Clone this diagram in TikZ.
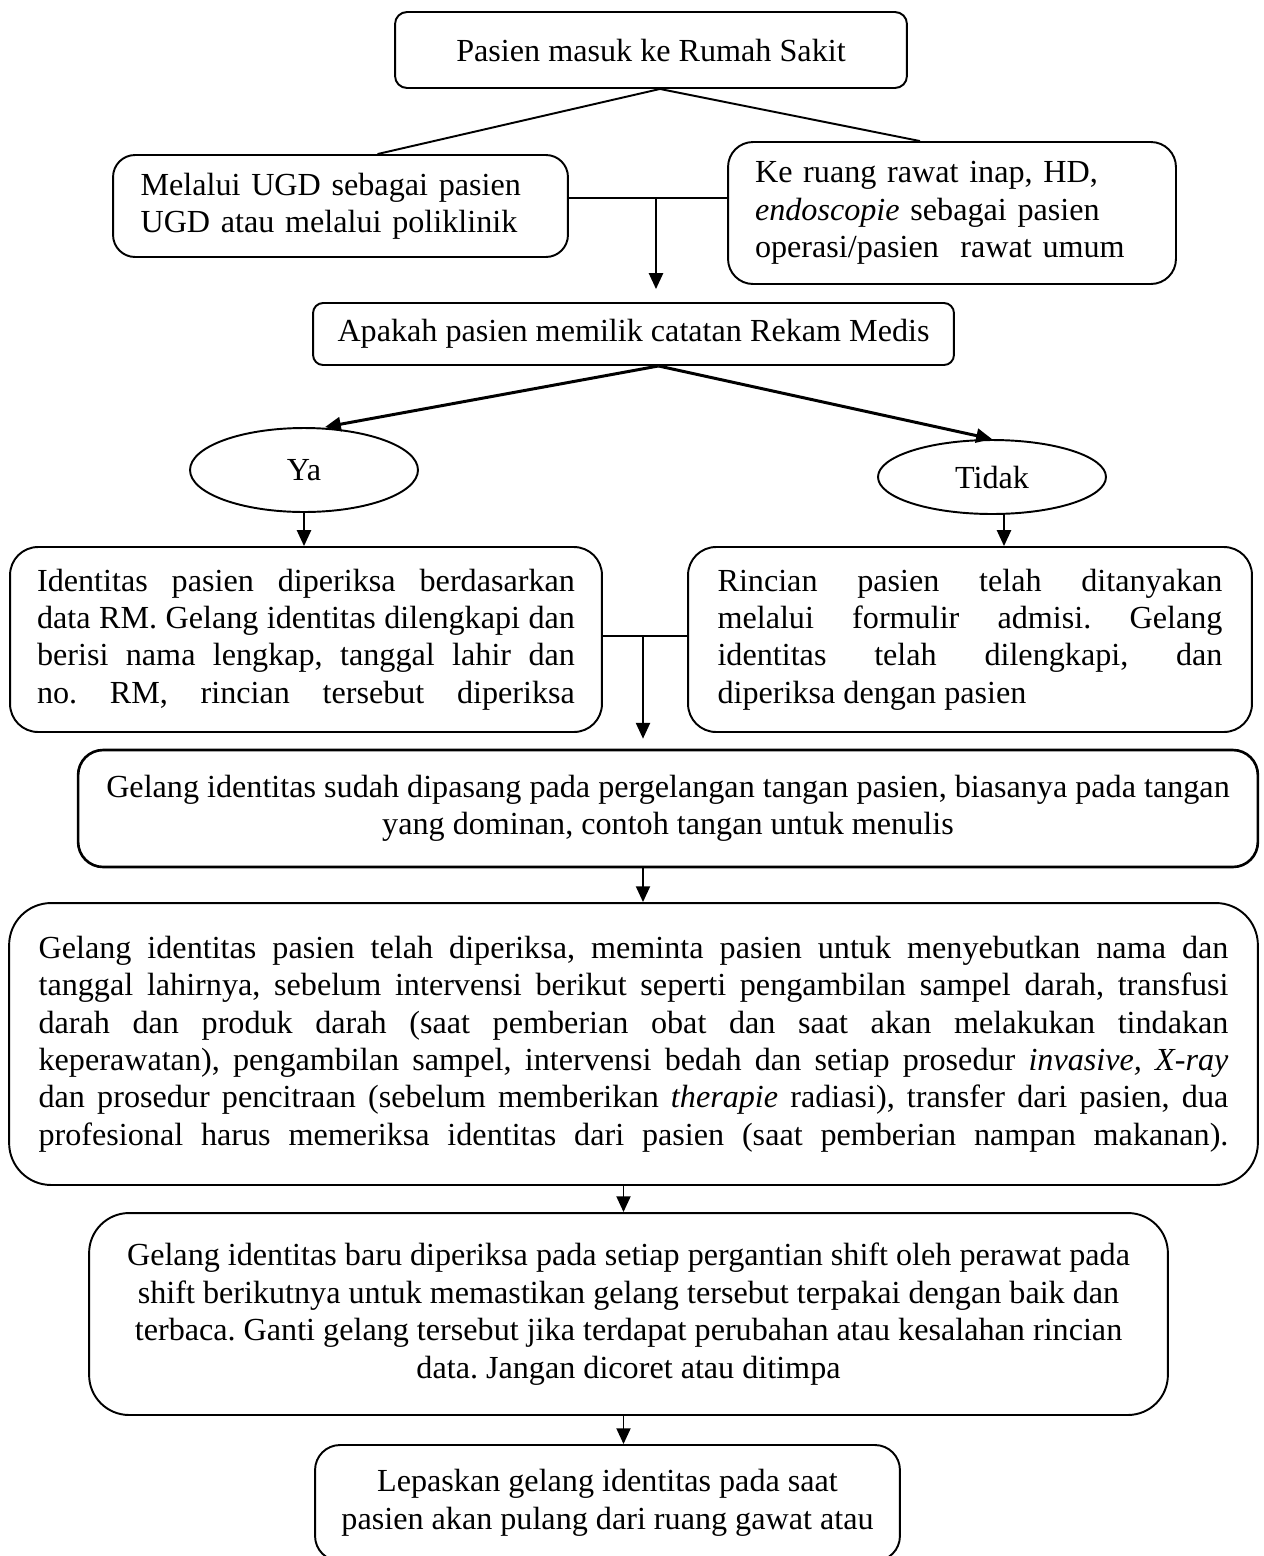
\documentclass[tikz,border=0pt]{standalone}
\usepackage{fontspec}
\setmainfont{Liberation Serif}
\usetikzlibrary{arrows.meta,calc,shapes.geometric}
\hyphenpenalty=10000 \exhyphenpenalty=10000
\frenchspacing

\begin{document}
\begin{tikzpicture}[x=0.02cm, y=-0.02cm, line width=1.1pt,
	box/.style={draw, rounded corners=#1, inner sep=0pt, font=\fontsize{18.3}{21.3}\selectfont},
	box/.default=0.4cm,
	oval/.style={draw, ellipse, inner sep=0pt, font=\fontsize{18.3}{21.3}\selectfont},
	arr/.style={-{Triangle[length=9pt,width=8pt]}}]
	\useasboundingbox (0,0) rectangle (1264,1556);
	\node[box=0.24cm, minimum width=10.24cm, minimum height=1.52cm] (top) at (651,50) {Pasien masuk ke Rumah Sakit};
	\node[box=0.44cm, minimum width=9.1cm, minimum height=2.04cm, text width=8cm, align=left] (ugd) at (340.5,206) {Melalui UGD sebagai pasien\\UGD atau melalui poliklinik};
	\node[box=0.5cm, minimum width=8.96cm, minimum height=2.84cm, text width=7.88cm, align=left] (inap) at (952,213) {Ke ruang rawat inap, HD,\\\textit{endoscopie} sebagai pasien\\operasi/pasien\ \ rawat umum};
	\node[box=0.2cm, minimum width=12.82cm, minimum height=1.24cm] (rm) at (633.5,334) {Apakah pasien memilik catatan Rekam Medis};
	\node[oval, minimum width=4.56cm, minimum height=1.68cm] (ya) at (304,470) {Ya};
	\node[oval, minimum width=4.56cm, minimum height=1.48cm] (tidak) at (992,477) {Tidak};
	\node[box=0.56cm, minimum width=11.84cm, minimum height=3.7cm, text width=10.76cm, align=justify] (idya) at (306,639.5) {\parfillskip=0pt Identitas pasien diperiksa berdasarkan\linebreak data RM. Gelang identitas dilengkapi dan\linebreak berisi nama lengkap, tanggal lahir dan\linebreak no. RM, rincian tersebut diperiksa\par};
	\node[box=0.56cm, minimum width=11.28cm, minimum height=3.7cm, text width=10.1cm, align=justify] (idtidak) at (970,639.5) {Rincian pasien telah ditanyakan\linebreak melalui formulir admisi. Gelang\linebreak identitas telah dilengkapi, dan\linebreak diperiksa dengan pasien};
	\node[box=0.5cm, minimum width=23.6cm, minimum height=2.34cm, line width=1.5pt, align=center] (pasang) at (668,808.5) {Gelang identitas sudah dipasang pada pergelangan tangan pasien, biasanya pada tangan\\yang dominan, contoh tangan untuk menulis};
	\node[box=0.84cm, minimum width=24.98cm, minimum height=5.64cm, text width=23.8cm, align=justify] (periksa) at (633.5,1044) {\parfillskip=0pt Gelang identitas pasien telah diperiksa, meminta pasien untuk menyebutkan nama dan\linebreak tanggal lahirnya, sebelum intervensi berikut seperti pengambilan sampel darah, transfusi\linebreak darah dan produk darah (saat pemberian obat dan saat akan melakukan tindakan\linebreak keperawatan), pengambilan sampel, intervensi bedah dan setiap prosedur \textit{invasive, X-ray}\linebreak dan prosedur pencitraan (sebelum memberikan \textit{therapie} radiasi), transfer dari pasien, dua\linebreak profesional harus memeriksa identitas dari pasien (saat pemberian nampan makanan).\par};
	\node[box=0.8cm, minimum width=21.58cm, minimum height=4.04cm, align=center] (shift) at (628.5,1314) {Gelang identitas baru diperiksa pada setiap pergantian shift oleh perawat pada\\shift berikutnya untuk memastikan gelang tersebut terpakai dengan baik dan\\terbaca. Ganti gelang tersebut jika terdapat perubahan atau kesalahan rincian\\data. Jangan dicoret atau ditimpa};
	\node[box=0.5cm, minimum width=11.7cm, minimum height=2.32cm, align=center] (lepas) at (607.5,1503) {Lepaskan gelang identitas pada saat\\pasien akan pulang dari ruang gawat atau};
	\coordinate (j1) at (656,198);
	\coordinate (j2) at (643,636);
	\coordinate (t1) at ($(tidak.south)+(12,-1)$);
	\coordinate (p1) at ($(pasang.south)+(-25,0)$);
	\coordinate (p2) at ($(periksa.south)+(-10,0)$);
	\coordinate (p3) at ($(shift.south)+(-5,0)$);
	\draw ($(ugd.north)+(37,0)$) -- ($(top.south)+(9,0)$) -- ($(inap.north)+(-32,0)$);
	\draw (j1 -| ugd.east) -- (j1 -| inap.west);
	\draw[arr, shorten >=0.26cm] (j1) -- (j1 |- rm.north);
	\draw[arr, line width=1.7pt] ($(rm.south)+(25,0)$) -- ($(ya.north)+(21,0)$);
	\draw[arr, line width=1.7pt] ($(rm.south)+(25,0)$) -- (tidak.north);
	\draw[arr] (ya.south) -- (ya.south |- idya.north);
	\draw[arr] (t1) -- (t1 |- idtidak.north);
	\draw (j2 -| idya.east) -- (j2 -| idtidak.west);
	\draw[arr, shorten >=0.2cm] (j2) -- (j2 |- pasang.north);
	\draw[arr] (p1) -- (p1 |- periksa.north);
	\draw[arr] (p2) -- (p2 |- shift.north);
	\draw[arr] (p3) -- (p3 |- lepas.north);
\end{tikzpicture}
\end{document}
